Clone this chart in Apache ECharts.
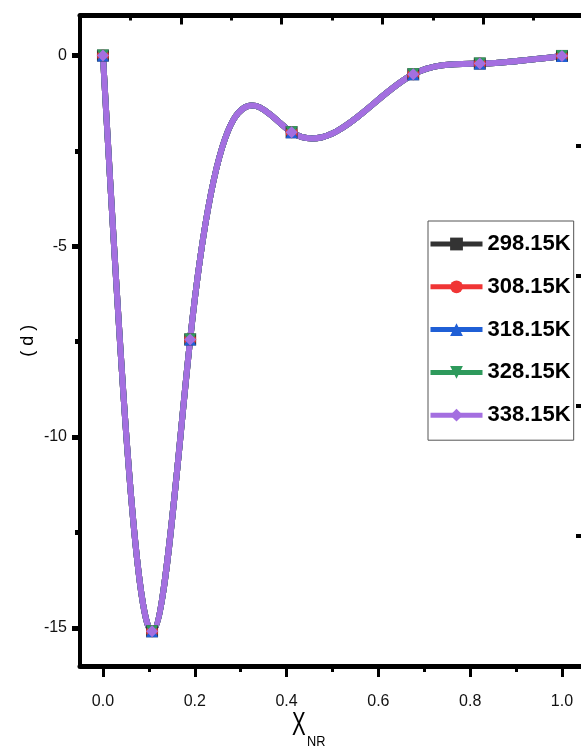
<!DOCTYPE html>
<html>
<head>
<meta charset="utf-8">
<script src="https://cdn.jsdelivr.net/npm/echarts@6/dist/echarts.min.js"></script>
<style>
html,body{margin:0;padding:0;background:#fff;}
#chart{width:581px;height:749px;}
</style>
</head>
<body>
<div id="chart"></div>
<script>
// ---- data ----
const seriesNames = ['298.15K', '308.15K', '318.15K', '328.15K', '338.15K'];
const xNR = [0, 0.107, 0.19, 0.411, 0.676, 0.821, 1.0];
const y29815 = [0, -15.09, -7.44, -2.01, -0.49, -0.21, -0.01];
const y30815 = [0, -15.09, -7.44, -2.01, -0.49, -0.21, -0.01];
const y31815 = [0, -15.09, -7.44, -2.01, -0.49, -0.21, -0.01];
const y32815 = [0, -15.09, -7.44, -2.01, -0.49, -0.21, -0.01];
const y33815 = [0, -15.09, -7.44, -2.01, -0.49, -0.21, -0.01];
const xTickValues = [0, 0.2, 0.4, 0.6, 0.8, 1.0];
const xMinorTickValues = [0.1, 0.3, 0.5, 0.7, 0.9];
const yTickValues = [-15, -10, -5, 0];
const yMinorTickValues = [-12.5, -7.5, -2.5];

// ---- styles ----
const colors = ['#333333', '#f03535', '#1f5fd6', '#2e9a5c', '#a46fe0'];
const symbols = ['rect', 'circle', 'triangle', 'path://M0,0 L10,0 L5,10 Z', 'diamond'];
const allY = [y29815, y30815, y31815, y32815, y33815];
const font = "'Liberation Sans', Arial, sans-serif";

// natural cubic spline: derivatives at knots
function splineDerivs(xs, ys) {
  const n = xs.length;
  const h = [];
  for (let i = 0; i < n - 1; i++) h.push(xs[i + 1] - xs[i]);
  const M = new Array(n).fill(0);
  const a = [], b = [], c = [], d = [];
  for (let i = 1; i < n - 1; i++) {
    a.push(h[i - 1]);
    b.push(2 * (h[i - 1] + h[i]));
    c.push(h[i]);
    d.push(6 * ((ys[i + 1] - ys[i]) / h[i] - (ys[i] - ys[i - 1]) / h[i - 1]));
  }
  const m = b.length;
  for (let i = 1; i < m; i++) {
    const w = a[i] / b[i - 1];
    b[i] -= w * c[i - 1];
    d[i] -= w * d[i - 1];
  }
  const sol = new Array(m);
  sol[m - 1] = d[m - 1] / b[m - 1];
  for (let i = m - 2; i >= 0; i--) sol[i] = (d[i] - c[i] * sol[i + 1]) / b[i];
  for (let i = 0; i < m; i++) M[i + 1] = sol[i];
  const segs = [];
  for (let i = 0; i < n - 1; i++) {
    const s = (ys[i + 1] - ys[i]) / h[i];
    const d0 = s - h[i] * (2 * M[i] + M[i + 1]) / 6;
    const d1 = s + h[i] * (M[i] + 2 * M[i + 1]) / 6;
    segs.push({ d0: d0, d1: d1, h: h[i] });
  }
  return segs;
}

const series = [];
seriesNames.forEach(function (name, k) {
  const ys = allY[k];
  const segs = splineDerivs(xNR, ys);
  series.push({
    name: name + ' curve',
    type: 'custom',
    xAxisIndex: 0,
    yAxisIndex: 0,
    clip: true,
    z: 2,
    silent: true,
    data: xNR.map(function (x, i) { return [x, ys[i]]; }),
    renderItem: function (params, api) {
      const i = params.dataIndex;
      if (i >= xNR.length - 1) return null;
      const sg = segs[i];
      const p0 = api.coord([xNR[i], ys[i]]);
      const p1 = api.coord([xNR[i + 1], ys[i + 1]]);
      const c0 = api.coord([xNR[i] + sg.h / 3, ys[i] + sg.h * sg.d0 / 3]);
      const c1 = api.coord([xNR[i + 1] - sg.h / 3, ys[i + 1] - sg.h * sg.d1 / 3]);
      return {
        type: 'bezierCurve',
        shape: { x1: p0[0], y1: p0[1], x2: p1[0], y2: p1[1], cpx1: c0[0], cpy1: c0[1], cpx2: c1[0], cpy2: c1[1] },
        style: { stroke: colors[k], lineWidth: 6, fill: null, lineCap: 'round' }
      };
    }
  });
});
seriesNames.forEach(function (name, k) {
  series.push({
    name: name,
    type: 'line',
    xAxisIndex: 0,
    yAxisIndex: 0,
    z: 3,
    data: xNR.map(function (x, i) { return [x, allY[k][i]]; }),
    symbol: symbols[k],
    symbolSize: 12,
    showSymbol: true,
    itemStyle: { color: colors[k] },
    lineStyle: { color: colors[k], width: 0, opacity: 0 },
    animation: false
  });
});

const chart = echarts.init(document.getElementById('chart'));
chart.setOption({
  animation: false,
  backgroundColor: '#fff',
  grid: { left: 80, right: -3, top: 15.5, bottom: 83, outerBoundsMode: 'none', containLabel: false },
  legend: {
    data: seriesNames,
    orient: 'vertical',
    left: 428,
    top: 221,
    padding: [8, 3, 10, 0],
    borderColor: '#555',
    borderWidth: 1,
    itemWidth: 52,
    itemHeight: 16,
    itemGap: 12.8,
    lineStyle: { width: 5, opacity: 1 },
    textStyle: { fontFamily: font, fontSize: 22, fontWeight: 'bold', color: '#000', lineHeight: 30 }
  },
  xAxis: [
    {
      type: 'value', position: 'bottom', min: -0.05, max: 1.048,
      axisLine: { show: true, onZero: false, lineStyle: { color: '#000', width: 5 } },
      axisTick: { show: true, inside: false, length: 11, customValues: xTickValues, lineStyle: { color: '#000', width: 3 } },
      axisLabel: { show: true, customValues: xTickValues, margin: 28, fontFamily: font, fontSize: 16, color: '#111',
        formatter: function (v) { return v.toFixed(1); } },
      splitLine: { show: false }
    },
    {
      type: 'value', position: 'bottom', min: -0.05, max: 1.048,
      axisLine: { show: false, onZero: false },
      axisTick: { show: true, inside: false, length: 6, customValues: xMinorTickValues, lineStyle: { color: '#000', width: 3 } },
      axisLabel: { show: false },
      splitLine: { show: false }
    },
    {
      type: 'value', position: 'top', min: 0, max: 5, interval: 1,
      axisLine: { show: true, onZero: false, lineStyle: { color: '#000', width: 5 } },
      axisTick: { show: true, inside: true, length: 9, lineStyle: { color: '#000', width: 3 } },
      minorTick: { show: true, splitNumber: 2, length: 5, lineStyle: { color: '#000', width: 3 } },
      axisLabel: { show: false },
      splitLine: { show: false }
    }
  ],
  yAxis: [
    {
      type: 'value', position: 'left', min: -16, max: 1.05,
      name: '( d )', nameLocation: 'middle', nameRotate: 90, nameGap: 43, nameMoveOverlap: false,
      nameTextStyle: { fontFamily: font, fontSize: 18, color: '#000' },
      axisLine: { show: true, onZero: false, lineStyle: { color: '#000', width: 4 } },
      axisTick: { show: true, inside: false, length: 8, customValues: yTickValues, lineStyle: { color: '#000', width: 5 } },
      axisLabel: { show: true, customValues: yTickValues, margin: 13, fontFamily: font, fontSize: 16, color: '#111' },
      splitLine: { show: false }
    },
    {
      type: 'value', position: 'left', min: -16, max: 1.05,
      axisLine: { show: false, onZero: false },
      axisTick: { show: true, inside: false, length: 5, customValues: yMinorTickValues, lineStyle: { color: '#000', width: 5 } },
      axisLabel: { show: false },
      splitLine: { show: false }
    },
    {
      type: 'value', position: 'right', min: 0, max: 5, interval: 1,
      axisLine: { show: true, onZero: false, lineStyle: { color: '#000', width: 4 } },
      axisTick: { show: true, inside: true, length: 8, lineStyle: { color: '#000', width: 4 } },
      axisLabel: { show: false },
      splitLine: { show: false }
    }
  ],
  graphic: [
    { type: 'text', left: 292, top: 709, scaleX: 0.62, style: { text: 'X', fontFamily: font, fontSize: 33, fill: '#000' } },
    { type: 'text', left: 307, top: 734, scaleX: 0.85, style: { text: 'NR', fontFamily: font, fontSize: 15, fill: '#000' } }
  ],
  series: series
});
</script>
</body>
</html>
